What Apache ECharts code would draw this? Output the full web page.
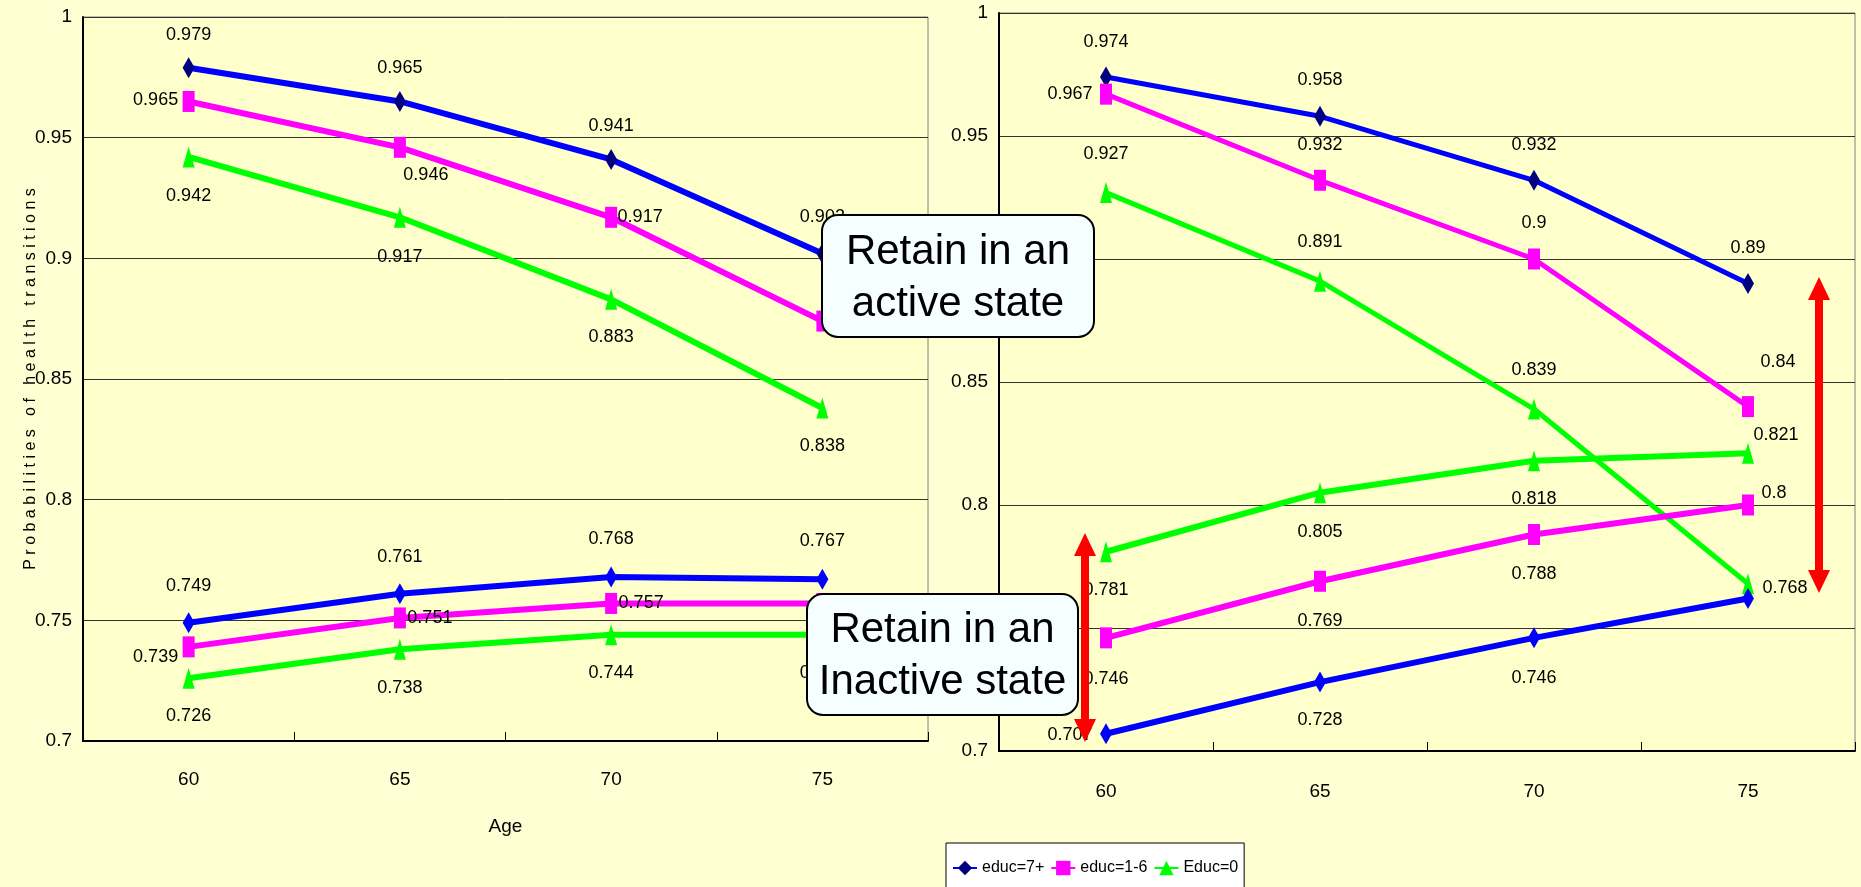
<!DOCTYPE html>
<html>
<head>
<meta charset="utf-8">
<script src="https://cdn.jsdelivr.net/npm/echarts@6/dist/echarts.min.js"></script>
<style>
  html, body { margin: 0; padding: 0; background: #FFFFD3; }
  #chart { width: 1861px; height: 887px; }
</style>
</head>
<body>
<div id="chart"></div>
<script>
// ---------------- data ----------------
const ages = ['60', '65', '70', '75'];
const seriesNames = ['educ=7+', 'educ=1-6', 'Educ=0'];

// left panel
const leftActive7 = [0.979, 0.965, 0.941, 0.902];
const leftActive16 = [0.965, 0.946, 0.917, 0.874];
const leftActive0 = [0.942, 0.917, 0.883, 0.838];
const leftInactive7 = [0.749, 0.761, 0.768, 0.767];
const leftInactive16 = [0.739, 0.751, 0.757, 0.757];
const leftInactive0 = [0.726, 0.738, 0.744, 0.744];

// right panel
const rightActive7 = [0.974, 0.958, 0.932, 0.89];
const rightActive16 = [0.967, 0.932, 0.9, 0.84];
const rightActive0 = [0.927, 0.891, 0.839, 0.768];
const rightInactive7 = [0.707, 0.728, 0.746, 0.762];
const rightInactive16 = [0.746, 0.769, 0.788, 0.8];
const rightInactive0 = [0.781, 0.805, 0.818, 0.821];

// ---------------- label placement (style only) ----------------
const offs = {
  lA7: [[0, -33], [0, -33], [0, -33], [0, -36]],
  lA16: [[-33, -1], [26, 28], [29, 0], [29, 0]],
  lA0: [[0, 39], [0, 40], [0, 38], [0, 38]],
  lI7: [[0, -37], [0, -37], [0, -38], [0, -38]],
  lI16: [[-33, 10], [30, 0], [30, 0], [30, 0]],
  lI0: [[0, 38], [0, 39], [0, 38], [0, 38]],
  rA7: [[0, -35], [0, -36], [0, -35], [0, -36]],
  rA16: [[-36, 0], [0, -35], [0, -36], [30, -45]],
  rA0: [[0, -39], [0, -39], [0, -39], [37, 4]],
  rI7: [[-36, 1], [0, 38], [0, 40], null],
  rI16: [[0, 41], [0, 40], [0, 40], [26, -12]],
  rI0: [[0, 38], [0, 39], [0, 38], [28, -18]]
};

const SANS = '"Liberation Sans", Arial, sans-serif';

const styles = [
  { line: '#0000FF', markA: '#000080', markI: '#0000FF', symbol: 'diamond' },
  { line: '#FF00FF', markA: '#FF00FF', markI: '#FF00FF', symbol: 'rect' },
  { line: '#00FF00', markA: '#00FF00', markI: '#00FF00', symbol: 'triangle' }
];

function mkData(values, offsets) {
  return values.map((v, i) => {
    const o = offsets[i];
    if (!o) return { value: v, label: { show: false } };
    return { value: v, label: { offset: o } };
  });
}

function mkSeries(k, values, offsets, grid, active, width) {
  const st = styles[k];
  return {
    name: seriesNames[k],
    type: 'line',
    xAxisIndex: grid,
    yAxisIndex: grid,
    data: mkData(values, offsets),
    symbol: st.symbol,
    symbolSize: [12, 21],
    showAllSymbol: true,
    lineStyle: { color: st.line, width: width },
    itemStyle: { color: active ? st.markA : st.markI },
    emphasis: { disabled: true },
    animation: false,
    label: {
      show: true,
      position: 'inside',
      color: '#000',
      fontFamily: SANS,
      fontSize: 18
    },
    z: 3
  };
}

const series = [
  mkSeries(0, leftActive7, offs.lA7, 0, true, 6),
  mkSeries(1, leftActive16, offs.lA16, 0, true, 6),
  mkSeries(2, leftActive0, offs.lA0, 0, true, 6),
  mkSeries(0, leftInactive7, offs.lI7, 0, false, 6),
  mkSeries(1, leftInactive16, offs.lI16, 0, false, 6),
  mkSeries(2, leftInactive0, offs.lI0, 0, false, 6),
  mkSeries(0, rightActive7, offs.rA7, 1, true, 5),
  mkSeries(1, rightActive16, offs.rA16, 1, true, 5),
  mkSeries(2, rightActive0, offs.rA0, 1, true, 5),
  mkSeries(0, rightInactive7, offs.rI7, 1, false, 6),
  mkSeries(1, rightInactive16, offs.rI16, 1, false, 6),
  mkSeries(2, rightInactive0, offs.rI0, 1, false, 6)
];

function mkX(grid, margin, name) {
  return {
    type: 'category',
    gridIndex: grid,
    data: ages,
    boundaryGap: true,
    axisLine: { show: true, lineStyle: { color: '#000', width: 2 } },
    axisTick: { show: true, inside: true, length: 9, lineStyle: { color: '#000', width: 1 } },
    axisLabel: { color: '#000', fontFamily: SANS, fontSize: 19, margin: margin },
    splitLine: { show: false },
    name: name || '',
    nameLocation: 'middle',
    nameGap: 76,
    nameMoveOverlap: false,
    nameTextStyle: { color: '#000', fontFamily: SANS, fontSize: 19 }
  };
}

function mkY(grid, name) {
  return {
    type: 'value',
    gridIndex: grid,
    min: 0.7,
    max: 1,
    interval: 0.05,
    axisLine: { show: true, lineStyle: { color: '#000', width: 2 } },
    axisTick: { show: false },
    axisLabel: {
      color: '#000', fontFamily: SANS, fontSize: 19, margin: 11,
      formatter: v => String(+v.toFixed(2))
    },
    splitLine: { show: true, lineStyle: { color: '#333', width: 1 } },
    name: name || '',
    nameLocation: 'middle',
    nameGap: 44,
    nameMoveOverlap: false,
    nameTextStyle: { color: '#000', fontFamily: SANS, fontSize: 16 }
  };
}

// annotation helpers (double-headed arrows)
function arrowPoints(x, top, bottom) {
  const hw = 11, sw = 4, hh = 23;
  return [
    [x, top], [x + hw, top + hh], [x + sw, top + hh], [x + sw, bottom - hh],
    [x + hw, bottom - hh], [x, bottom], [x - hw, bottom - hh], [x - sw, bottom - hh],
    [x - sw, top + hh], [x - hw, top + hh]
  ];
}

function box(x, y, w, h, lines) {
  return {
    type: 'group',
    z: 100,
    children: [
      {
        type: 'rect',
        shape: { x: x, y: y, width: w, height: h, r: 16 },
        style: { fill: '#F5FFFF', stroke: '#000', lineWidth: 2 },
        z: 100
      },
      {
        type: 'text',
        x: x + w / 2,
        y: y + h / 2 + 2,
        style: {
          text: lines.join('\n'),
          font: '42px ' + SANS,
          fill: '#000',
          align: 'center',
          verticalAlign: 'middle',
          lineHeight: 52
        },
        z: 101
      }
    ]
  };
}

const option = {
  backgroundColor: '#FFFFD3',
  animation: false,
  grid: [
    { left: 83, top: 17, width: 845, height: 724, show: true, backgroundColor: '#FFFFCC', borderColor: '#808080', borderWidth: 1 },
    { left: 999, top: 13, width: 856, height: 738, show: true, backgroundColor: '#FFFFCC', borderColor: '#808080', borderWidth: 1 }
  ],
  xAxis: [mkX(0, 29, 'Age'), mkX(1, 31, '')],
  yAxis: [
    mkY(0, 'P r o b a b i l i t i e s   o f   h e a l t h   t r a n s i t i o n s'),
    mkY(1, '')
  ],
  legend: {
    data: seriesNames,
    left: 946,
    top: 843,
    orient: 'horizontal',
    itemWidth: 24,
    itemHeight: 18,
    itemGap: 6,
    padding: [17, 6, 14, 6],
    backgroundColor: '#FFFFFF',
    borderColor: '#000',
    borderWidth: 1,
    borderRadius: 0,
    selectedMode: false,
    textStyle: { color: '#000', fontFamily: SANS, fontSize: 16 }
  },
  series: series,
  graphic: [
    box(822, 215, 272, 122, ['Retain in an', 'active state']),
    box(807, 594, 271, 121, ['Retain in an', 'Inactive state']),
    {
      type: 'polygon', z: 90,
      shape: { points: arrowPoints(1085, 533, 742) },
      style: { fill: '#FF0000' }
    },
    {
      type: 'polygon', z: 90,
      shape: { points: arrowPoints(1819, 277, 593) },
      style: { fill: '#FF0000' }
    }
  ]
};

const chart = echarts.init(document.getElementById('chart'), null, { renderer: 'canvas' });
chart.setOption(option);
</script>
</body>
</html>
